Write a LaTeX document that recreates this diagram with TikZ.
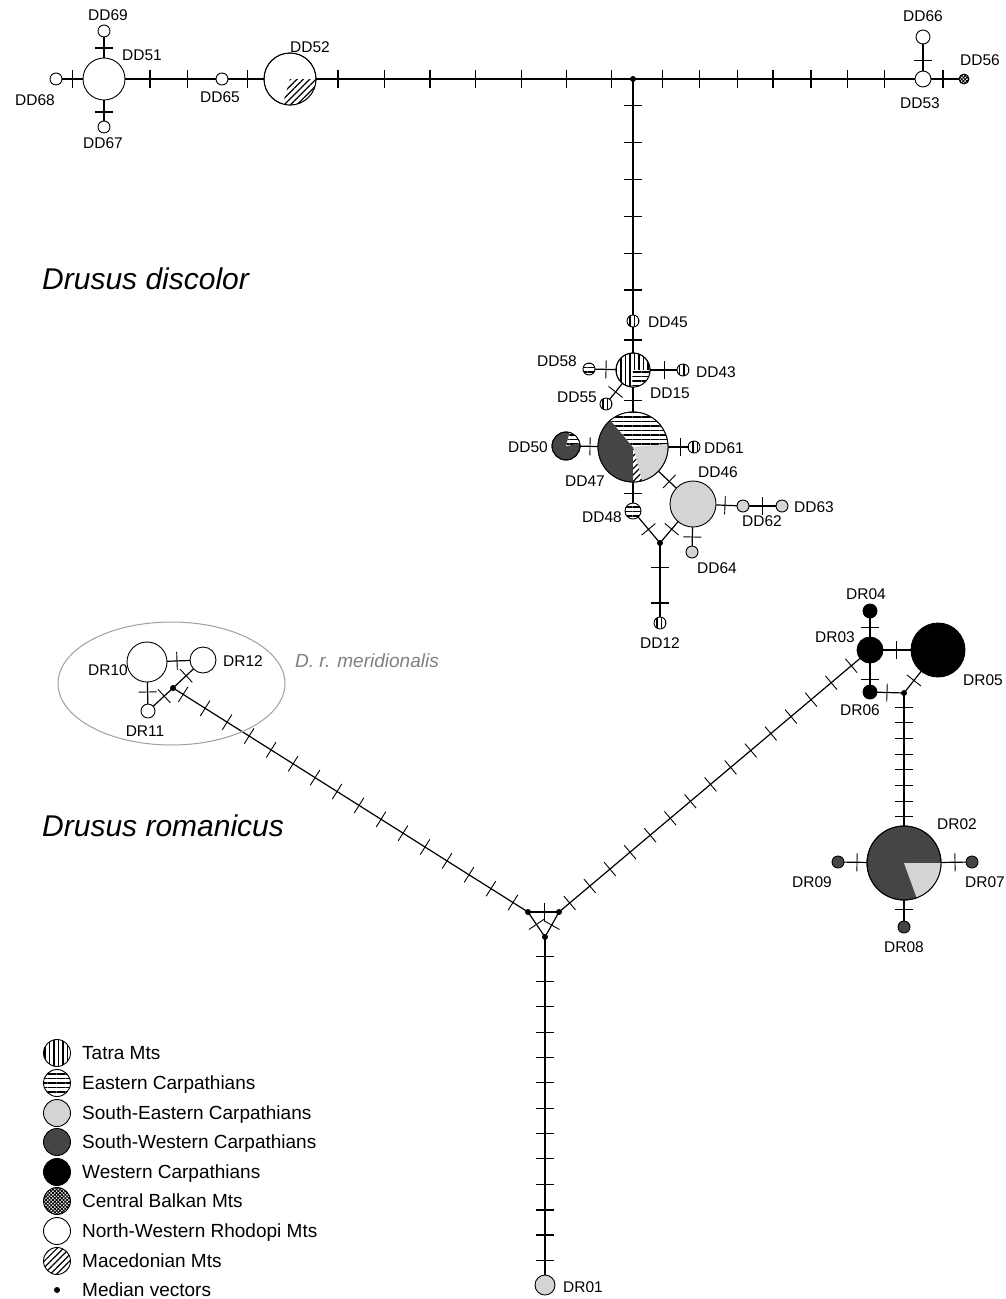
\documentclass[tikz,border=0pt]{standalone}
\usepackage{fontspec}
\setmainfont{Liberation Sans}
\usetikzlibrary{decorations.markings, patterns.meta, backgrounds}
\definecolor{lgray}{HTML}{D4D4D4}
\definecolor{dgray}{HTML}{454545}

\tikzset{
  hap/.style={circle, draw, line width=0.9pt, inner sep=0pt, minimum size=#1, fill=white},
  mv/.style={circle, fill=black, inner sep=0pt, minimum size=6pt},
  lbl/.style={font=\fontsize{15.5}{18}\selectfont, inner sep=0pt, text height=11pt, text depth=0pt},
  legtxt/.style={font=\fontsize{19}{22}\selectfont, anchor=west, inner sep=0pt, text height=13.6pt, text depth=0pt},
  spname/.style={font=\fontsize{30}{34}\selectfont\itshape, anchor=west, inner sep=0pt, text height=21.5pt, text depth=0pt},
  link/.style={line width=1.2pt},
  tk/.style={postaction={decorate, decoration={markings, mark=at position #1 with {\draw[line width=0.9pt] (0,-9pt) -- (0,9pt);}}}},
  tkb/.style={postaction={decorate, decoration={markings, mark=at position #1 with {\draw[line width=2.2pt] (0,-9pt) -- (0,9pt);}}}},
  tks/.style args={#1 to #2 by #3}{postaction={decorate, decoration={markings, mark=between positions #1 and #2 step #3 with {\draw[line width=0.9pt] (0,-9pt) -- (0,9pt);}}}},
  tatra/.style={preaction={fill=white}, pattern={Lines[angle=90, distance=4.5pt, line width=1.4pt]}},
  ecarp/.style={preaction={fill=white}, pattern={Lines[angle=0, distance=4.5pt, line width=1.4pt]}},
  secarp/.style={fill=lgray},
  swcarp/.style={fill=dgray},
  wcarp/.style={fill=black},
  cbalk/.style={preaction={fill=white}, pattern={Hatch[angle=45, distance=2.5pt, line width=0.9pt]}},
  macmts/.style={preaction={fill=white}, pattern={Lines[angle=45, distance=4.5pt, line width=1.2pt]}},
}
% one slice of a pie: centre, radius, start angle, end angle, style
\newcommand{\piece}[5]{\fill[#5] (#1) -- ++(#3:#2pt) arc[start angle=#3, end angle=#4, radius=#2pt] -- cycle;}

\begin{document}
\begin{tikzpicture}[x=1pt, y=-1pt]
        \useasboundingbox (0,0) rectangle (1006,1299);

        % Drusus discolor, upper row
        \node[hap=12pt] (dd68) at (56,79) {};
        \node[hap=42pt] (dd51) at (104,79) {};
        \node[hap=12pt] (dd69) at (104,31) {};
        \node[hap=12pt] (dd67) at (104,127) {};
        \node[hap=12pt] (dd65) at (222,79) {};
        \node[hap=52pt] (dd52) at (290,79) {};
        \node[mv] (m1) at (633,79) {}; % median on the top line
        \node[hap=16pt] (dd53) at (923,79) {};
        \node[hap=14pt] (dd66) at (923,37) {};
        \node[hap=10pt, cbalk] (dd56) at (964,79) {};
        \piece{dd52.center}{26}{-106}{0}{macmts}
        \draw[line width=0.9pt] (dd52.center) circle[radius=26pt];

        % Drusus discolor, central group
        \node[hap=12pt, tatra] (dd45) at (633,321) {};
        \node[hap=34pt, tatra] (dd15) at (633,370) {};
        \node[hap=12pt, ecarp] (dd58) at (589,369) {};
        \node[hap=12pt, tatra] (dd43) at (683,370) {};
        \node[hap=12pt, tatra] (dd55) at (606,404) {};
        \node[hap=70pt] (dd47) at (633,447) {};
        \node[hap=28pt, swcarp] (dd50) at (566,446) {};
        \node[hap=12pt, tatra] (dd61) at (694,447) {};
        \node[hap=16pt, ecarp] (dd48) at (633,511) {};
        \node[hap=46pt, secarp] (dd46) at (693,504) {};
        \node[hap=12pt, secarp] (dd62) at (743,506) {};
        \node[hap=12pt, secarp] (dd63) at (782,506) {};
        \node[hap=12pt, secarp] (dd64) at (692,552) {};
        \node[mv] (m2) at (660,543) {};
        \node[hap=12pt, tatra] (dd12) at (660,623) {};
        \piece{dd15.center}{17}{-95}{0}{ecarp}
        \draw[line width=0.9pt] (dd15.center) circle[radius=17pt];
        \piece{dd47.center}{35}{130}{270}{swcarp}
        \piece{dd47.center}{35}{5}{130}{ecarp}
        \piece{dd47.center}{35}{285}{365}{secarp}
        \piece{dd47.center}{35}{270}{285}{macmts}
        \draw[line width=0.9pt] (dd47.center) circle[radius=35pt];
        \piece{dd50.center}{14}{10}{75}{ecarp}
        \draw[line width=0.9pt] (dd50.center) circle[radius=14pt];

        % Drusus romanicus, right group
        \node[hap=14pt, wcarp] (dr04) at (870,611) {};
        \node[hap=26pt, wcarp] (dr03) at (870,650) {};
        \node[hap=54pt, wcarp] (dr05) at (938,650) {};
        \node[hap=14pt, wcarp] (dr06) at (870,692) {};
        \node[mv] (m4) at (904,693) {};
        \node[hap=74pt, swcarp] (dr02) at (904,863) {};
        \node[hap=12pt, swcarp] (dr09) at (838,862) {};
        \node[hap=12pt, swcarp] (dr07) at (972,862) {};
        \node[hap=12pt, swcarp] (dr08) at (904,927) {};
        \piece{dr02.center}{37}{-70}{0}{secarp}
        \draw[line width=0.9pt] (dr02.center) circle[radius=37pt];

        % Drusus romanicus, left group and the centre
        \node[hap=40pt] (dr10) at (147,662) {};
        \node[hap=26pt] (dr12) at (203,660) {};
        \node[hap=14pt] (dr11) at (148,711) {};
        \node[mv] (m3) at (173,688) {};
        \node[mv] (mL) at (528,912) {};
        \node[mv] (mR) at (559,912) {};
        \node[mv] (mB) at (545,937) {};
        \node[hap=20pt, secarp] (dr01) at (545,1285) {};
        \draw[gray!75, line width=1pt] (171.5,683.5) ellipse[x radius=113.5pt, y radius=61.5pt]; % D. r. meridionalis

        % connectors with mutation ticks, behind the circles
        \begin{scope}[on background layer]
        \fill[white] (0,0) rectangle (1006,1299);
        \draw[link, tk=16pt] (dd68.center) -- (dd51.center);
        \draw[link, tkb=31pt] (dd51.center) -- (dd69.center);
        \draw[link, tkb=33pt] (dd51.center) -- (dd67.center);
        \draw[link, tkb=46pt, tk=83pt] (dd51.center) -- (dd65.center);
        \draw[link, tk=25pt] (dd65.center) -- (dd52.center);
        \draw[link, tkb=48pt, tk=94pt, tkb=140pt, tk=185pt, tk=231pt, tk=276pt, tk=321pt] (dd52.center) -- (m1.center);
        \draw[link, tk=29pt, tk=66pt, tk=104pt, tkb=140pt, tkb=178pt, tk=214pt, tk=251pt] (m1.center) -- (dd53.center);
        \draw[link, tkb=20pt] (dd53.center) -- (dd56.center);
        \draw[link, tk=19pt] (dd53.center) -- (dd66.center);
        \draw[link, tk=26pt, tk=63pt, tk=100pt, tk=137pt, tk=174pt, tkb=211pt] (m1.center) -- (dd45.center);
        \draw[link, tkb=19pt] (dd45.center) -- (dd15.center);
        \draw[link, tk=27pt] (dd15.center) -- (dd58.center);
        \draw[link, tk=31pt] (dd15.center) -- (dd43.center);
        \draw[link, tk=28pt] (dd15.center) -- (dd55.center);
        \draw[link, tk=30pt] (dd15.center) -- (dd47.center);
        \draw[link, tk=43pt] (dd47.center) -- (dd50.center);
        \draw[link, tk=47pt] (dd47.center) -- (dd61.center);
        \draw[link, tk=46pt] (dd47.center) -- (dd48.center);
        \draw[link, tk=50pt] (dd47.center) -- (dd46.center);
        \draw[link, tk=32pt] (dd46.center) -- (dd62.center);
        \draw[link, tk=19pt] (dd62.center) -- (dd63.center);
        \draw[link, tk=33pt] (dd46.center) -- (dd64.center);
        \draw[link, tk=24pt] (dd48.center) -- (m2.center);
        \draw[link, tk=33pt] (dd46.center) -- (m2.center);
        \draw[link, tk=24pt, tkb=60pt] (m2.center) -- (dd12.center);

        \draw[link, tk=30pt] (dr10.center) -- (dr12.center);
        \draw[link, tk=30pt] (dr10.center) -- (dr11.center);
        \draw[link, tk=22pt] (dr11.center) -- (m3.center);
        \draw[link, tk=18pt] (m3.center) -- (dr12.center);
        \draw[link, tks=12pt to 404pt by 26pt] (m3.center) -- (mL.center);
        \draw[link, tk=16pt] (mL.center) -- (mR.center);
        \draw[link, tk=15pt] (mL.center) -- (mB.center);
        \draw[link, tk=15pt] (mR.center) -- (mB.center);
        \draw[link, tks=14pt to 384pt by 26.3pt] (mR.center) -- (dr03.center);
        \draw[link, tks=19pt to 325pt by 25.33pt, tkb=273pt, tkb=298pt] (mB.center) -- (dr01.center);
        \draw[link, tk=23pt] (dr03.center) -- (dr04.center);
        \draw[link, tk=26pt] (dr03.center) -- (dr05.center);
        \draw[link, tk=29pt] (dr03.center) -- (dr06.center);
        \draw[link, tk=17pt] (dr06.center) -- (m4.center);
        \draw[link, tk=16pt] (m4.center) -- (dr05.center);
        \draw[link, tks=14pt to 125pt by 15.7pt] (m4.center) -- (dr02.center);
        \draw[link, tk=47pt] (dr02.center) -- (dr09.center);
        \draw[link, tk=51pt] (dr02.center) -- (dr07.center);
        \draw[link, tk=46pt] (dr02.center) -- (dr08.center);
        \end{scope}

        % haplotype labels
        \node[lbl] (l69) at (108,15) {DD69};
        \node[lbl] (l51) at (142,55) {DD51};
        \node[lbl] (l68) at (35,100) {DD68};
        \node[lbl] (l67) at (103,143) {DD67};
        \node[lbl] (l65) at (220,97) {DD65};
        \node[lbl] (l52) at (310,47) {DD52};
        \node[lbl] (l66) at (923,16) {DD66};
        \node[lbl] (l56) at (980,60) {DD56};
        \node[lbl] (l53) at (920,103) {DD53};
        \node[lbl] (l45) at (668,322) {DD45};
        \node[lbl] (l58) at (557,361) {DD58};
        \node[lbl] (l43) at (716,372) {DD43};
        \node[lbl] (l55) at (577,397) {DD55};
        \node[lbl] (l15) at (670,393) {DD15};
        \node[lbl] (l50) at (528,447) {DD50};
        \node[lbl] (l61) at (724,448) {DD61};
        \node[lbl] (l46) at (718,472) {DD46};
        \node[lbl] (l47) at (585,481) {DD47};
        \node[lbl] (l48) at (602,517) {DD48};
        \node[lbl] (l62) at (762,521) {DD62};
        \node[lbl] (l63) at (814,507) {DD63};
        \node[lbl] (l64) at (717,568) {DD64};
        \node[lbl] (l12) at (660,643) {DD12};
        \node[lbl] (r04) at (866,594) {DR04};
        \node[lbl] (r03) at (835,637) {DR03};
        \node[lbl] (r05) at (983,680) {DR05};
        \node[lbl] (r06) at (860,710) {DR06};
        \node[lbl] (r02) at (957,824) {DR02};
        \node[lbl] (r09) at (812,882) {DR09};
        \node[lbl] (r07) at (985,882) {DR07};
        \node[lbl] (r08) at (904,947) {DR08};
        \node[lbl] (r10) at (108,670) {DR10};
        \node[lbl] (r12) at (243,661) {DR12};
        \node[lbl] (r11) at (145,731) {DR11};
        \node[lbl] (r01) at (583,1287) {DR01};

        % species names
        \node[spname] (sp1) at (42,279) {Drusus discolor};
        \node[spname] (sp2) at (42,826) {Drusus romanicus};
        \node[legtxt, font=\fontsize{19}{22}\selectfont\itshape, text=gray] (sp3) at (295,661) {D. r. meridionalis};

        % legend
        \node[hap=27pt, tatra] (k1) at (57,1053) {};
        \node[legtxt] (t1) at (82,1053) {Tatra Mts};
        \node[hap=27pt, ecarp] (k2) at (57,1083) {};
        \node[legtxt] (t2) at (82,1083) {Eastern Carpathians};
        \node[hap=27pt, secarp] (k3) at (57,1113) {};
        \node[legtxt] (t3) at (82,1113) {South-Eastern Carpathians};
        \node[hap=27pt, swcarp] (k4) at (57,1142) {};
        \node[legtxt] (t4) at (82,1142) {South-Western Carpathians};
        \node[hap=27pt, wcarp] (k5) at (57,1172) {};
        \node[legtxt] (t5) at (82,1172) {Western Carpathians};
        \node[hap=27pt, cbalk] (k6) at (57,1201) {};
        \node[legtxt] (t6) at (82,1201) {Central Balkan Mts};
        \node[hap=27pt] (k7) at (57,1231) {};
        \node[legtxt] (t7) at (82,1231) {North-Western Rhodopi Mts};
        \node[hap=27pt, macmts] (k8) at (57,1261) {};
        \node[legtxt] (t8) at (82,1261) {Macedonian Mts};
        \node[mv] (k9) at (57,1290) {};
        \node[legtxt] (t9) at (82,1290) {Median vectors};
    \end{tikzpicture}
\end{document}
